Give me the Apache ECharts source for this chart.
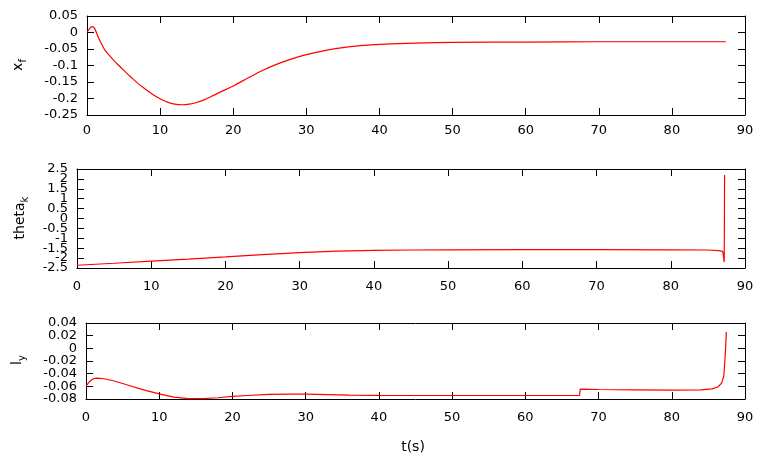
<!DOCTYPE html>
<html>
<head>
<meta charset="utf-8">
<script src="https://cdn.jsdelivr.net/npm/echarts@6/dist/echarts.min.js"></script>
<style>html,body{margin:0;padding:0;background:#fff;}#c{width:758px;height:459px;}</style>
</head>
<body>
<div id="c"></div>
<script>
// ---- data ----
const t1 = [0, 0.3, 0.7, 1.0, 1.5, 2.0, 2.5, 3.0, 3.6, 4.0, 5.0, 6.0, 7.0, 8.0, 9.0, 10.0, 11.0, 12.0, 13.0, 14.0, 15.0, 16.0, 17.0, 18.0, 20.0, 22.0, 24.0, 26.0, 28.0, 30.0, 32.0, 34.0, 36.0, 38.0, 40.0, 45.0, 50.0, 60.0, 70.0, 80.0, 87.4];
const xf = [0, 0.01, 0.018, 0.014, -0.012, -0.035, -0.055, -0.068, -0.083, -0.092, -0.114, -0.135, -0.155, -0.172, -0.188, -0.201, -0.211, -0.217, -0.219, -0.217, -0.212, -0.204, -0.194, -0.183, -0.162, -0.138, -0.115, -0.096, -0.080, -0.067, -0.057, -0.049, -0.043, -0.039, -0.036, -0.032, -0.030, -0.029, -0.028, -0.028, -0.028];

const t2 = [0, 5, 10, 15, 20, 25, 30, 35, 40, 45, 50, 60, 70, 80, 85, 86.5, 87.0, 87.2, 87.25];
const theta = [-2.36, -2.26, -2.15, -2.05, -1.94, -1.82, -1.72, -1.65, -1.61, -1.59, -1.58, -1.57, -1.57, -1.58, -1.59, -1.62, -1.66, -2.2, 2.2];

const t3 = [0, 0.5, 1.0, 1.5, 2.5, 4, 6, 8, 10, 12, 14, 16, 18, 20, 22, 25, 28, 30, 33, 36, 40, 50, 60, 67.4, 67.5, 70, 75, 80, 84, 85.5, 86.3, 86.8, 87.1, 87.25, 87.35, 87.45];
const ly = [-0.0595, -0.052, -0.048, -0.047, -0.048, -0.052, -0.059, -0.066, -0.072, -0.077, -0.0795, -0.0795, -0.078, -0.076, -0.0745, -0.0728, -0.0722, -0.0722, -0.073, -0.0738, -0.0742, -0.0745, -0.0745, -0.0745, -0.0645, -0.065, -0.0655, -0.066, -0.0655, -0.064, -0.061, -0.055, -0.044, -0.02, 0.0, 0.026];

// tick labels
const xTicks = ['0', '10', '20', '30', '40', '50', '60', '70', '80', '90'];
const yTicks1 = ['-0.25', '-0.2', '-0.15', '-0.1', '-0.05', '0', '0.05'];
const yTicks2 = ['-2.5', '-2', '-1.5', '-1', '-0.5', '0', '0.5', '1', '1.5', '2', '2.5'];
const yTicks3 = ['-0.08', '-0.06', '-0.04', '-0.02', '0', '0.02', '0.04'];
const yNames = [['x', 'f'], ['theta', 'k'], ['l', 'y']];
const xName = 't(s)';

const xRange = {min: 0, max: 90, interval: 10};
const yRanges = [
  {min: -0.25, max: 0.05, interval: 0.05},
  {min: -2.5, max: 2.5, interval: 0.5},
  {min: -0.08, max: 0.04, interval: 0.02}
];
const yTickSets = [yTicks1, yTicks2, yTicks3];

// ---- layout ----
const FONT = 'DejaVu Sans';
const grids = [
  {left: 87, right: 13, top: 16, height: 99},
  {left: 77, right: 13, top: 169, height: 99},
  {left: 86, right: 13, top: 323, height: 76}
];
const xLabelOffset = [16, 19, 19];
const labelPos = [[18, 65], [20, 218], [17, 360]];

const xAxes = [], yAxes = [], series = [];
const lineCommon = {show: true, onZero: false, lineStyle: {color: '#000', width: 1}};
const tickCommon = {show: true, inside: true, length: 7, lineStyle: {color: '#000', width: 1}};
grids.forEach((g, i) => {
  ['bottom', 'top'].forEach(pos => xAxes.push({
    type: 'value', gridIndex: i, position: pos, ...xRange,
    axisLine: lineCommon, axisTick: tickCommon, splitLine: {show: false},
    axisLabel: {show: false}
  }));
  ['left', 'right'].forEach(pos => yAxes.push({
    type: 'value', gridIndex: i, position: pos, ...yRanges[i],
    axisLine: lineCommon, axisTick: tickCommon, splitLine: {show: false},
    axisLabel: {show: false}
  }));
});

const datasets = [[t1, xf], [t2, theta], [t3, ly]];
datasets.forEach((d, i) => {
  series.push({
    type: 'line', xAxisIndex: i * 2, yAxisIndex: i * 2,
    data: d[0].map((t, k) => [t, d[1][k]]),
    symbol: 'none', smooth: i === 0 ? 0.35 : false,
    lineStyle: {color: '#ff0000', width: 1.2},
    silent: true
  });
});

const chart = echarts.init(document.getElementById('c'), null, {renderer: 'canvas'});
chart.setOption({
  animation: false,
  backgroundColor: '#fff',
  grid: grids,
  xAxis: xAxes,
  yAxis: yAxes,
  series: series
});

const graphic = [];
const txt = (x, y, text, size, align) => ({type: 'text', x: x, y: y,
  style: {text: text, fontFamily: FONT, fontSize: size, fill: '#000', align: align, verticalAlign: 'middle'}});

// tick labels (all shown, overlapping like the original) placed via the axis scales
yTickSets.forEach((ticks, i) => {
  const r = yRanges[i];
  ticks.forEach((lab, k) => {
    const py = chart.convertToPixel({yAxisIndex: i * 2}, r.min + k * r.interval);
    graphic.push(txt(grids[i].left - 9, py, lab, 13, 'right'));
  });
  const bottom = grids[i].top + grids[i].height;
  xTicks.forEach((lab, k) => {
    const px = chart.convertToPixel({xAxisIndex: i * 2}, xRange.min + k * xRange.interval);
    graphic.push(txt(px, bottom + xLabelOffset[i], lab, 13, 'center'));
  });
});

// y-axis titles with subscripts
const mainW = {x: 8.3, theta: 37, l: 3.9};
const subW = {f: 3.5, k: 5.8, y: 5.9};
yNames.forEach((n, i) => {
  const W = mainW[n[0]] + subW[n[1]];
  const a = txt(-W / 2, 0, n[0], 14, 'left');
  const b = txt(-W / 2 + mainW[n[0]], 5, n[1], 10, 'left');
  graphic.push({type: 'group', x: labelPos[i][0], y: labelPos[i][1], rotation: Math.PI / 2, children: [a, b]});
});
graphic.push(txt(413, 447, xName, 14, 'center'));

chart.setOption({graphic: graphic});
</script>
</body>
</html>
